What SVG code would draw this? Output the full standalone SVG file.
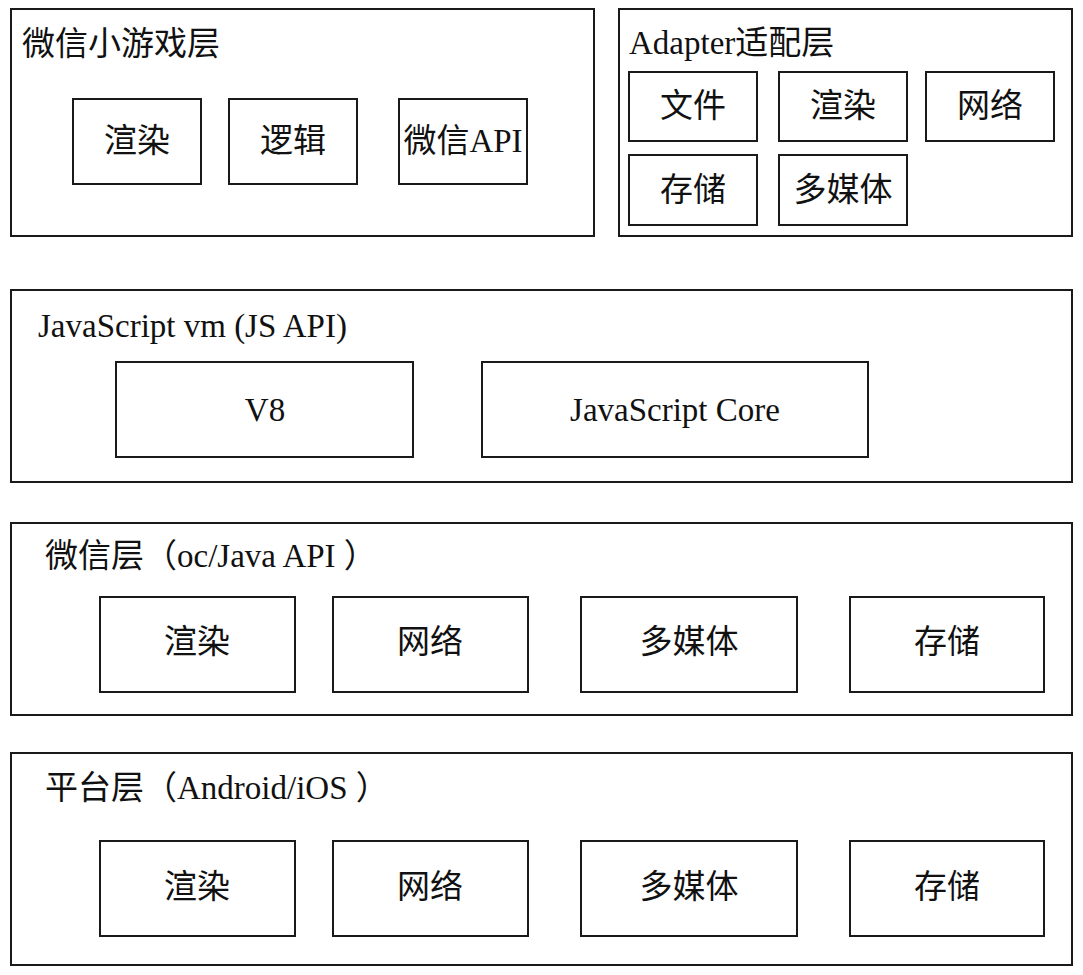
<svg xmlns="http://www.w3.org/2000/svg" width="1083" height="975" viewBox="0 0 1083 975">
<style>
.b{fill:#fff;stroke:#1a1a1a;stroke-width:2}
.t{font-family:"Liberation Serif","Noto Sans CJK SC",serif;font-size:33px;fill:#111;dominant-baseline:central}
.c{text-anchor:middle}
</style>
<rect width="1083" height="975" fill="#fff"/>
<g id="minigame-layer">
<rect class="b" x="11" y="9" width="583" height="227"/>
<text class="t" x="22" y="44">微信小游戏层</text>
</g>
<g id="mg-render"><rect class="b" x="73" y="99" width="128" height="85"/><text class="t c" x="137" y="141">渲染</text></g>
<g id="mg-logic"><rect class="b" x="229" y="99" width="128" height="85"/><text class="t c" x="293" y="141">逻辑</text></g>
<g id="mg-wxapi"><rect class="b" x="399" y="99" width="128" height="85"/><text class="t c" x="463" y="141">微信API</text></g>
<g id="adapter-layer">
<rect class="b" x="619" y="9" width="453" height="227"/>
<text class="t" x="629" y="43">Adapter适配层</text>
</g>
<g id="ad-file"><rect class="b" x="629" y="72" width="128" height="69"/><text class="t c" x="693" y="106">文件</text></g>
<g id="ad-render"><rect class="b" x="779" y="72" width="128" height="69"/><text class="t c" x="843" y="106">渲染</text></g>
<g id="ad-net"><rect class="b" x="926" y="72" width="128" height="69"/><text class="t c" x="990" y="106">网络</text></g>
<g id="ad-storage"><rect class="b" x="629" y="155" width="128" height="70"/><text class="t c" x="693" y="190">存储</text></g>
<g id="ad-media"><rect class="b" x="779" y="155" width="128" height="70"/><text class="t c" x="843" y="190">多媒体</text></g>
<g id="js-layer">
<rect class="b" x="11" y="290" width="1061" height="192"/>
<text class="t" x="38" y="326">JavaScript vm (JS API)</text>
</g>
<g id="js-v8"><rect class="b" x="116" y="362" width="297" height="95"/><text class="t c" x="265" y="410">V8</text></g>
<g id="js-jsc"><rect class="b" x="482" y="362" width="386" height="95"/><text class="t c" x="675" y="410">JavaScript Core</text></g>
<g id="wechat-layer">
<rect class="b" x="11" y="523" width="1061" height="192"/>
<text class="t" x="45" y="556">微信层（oc/Java API ）</text>
</g>
<g id="wx-render"><rect class="b" x="100" y="597" width="195" height="95"/><text class="t c" x="197" y="642">渲染</text></g>
<g id="wx-net"><rect class="b" x="333" y="597" width="195" height="95"/><text class="t c" x="430" y="642">网络</text></g>
<g id="wx-media"><rect class="b" x="581" y="597" width="216" height="95"/><text class="t c" x="689" y="642">多媒体</text></g>
<g id="wx-storage"><rect class="b" x="850" y="597" width="194" height="95"/><text class="t c" x="947" y="642">存储</text></g>
<g id="platform-layer">
<rect class="b" x="11" y="753" width="1061" height="212"/>
<text class="t" x="45" y="788">平台层（Android/iOS ）</text>
</g>
<g id="pf-render"><rect class="b" x="100" y="841" width="195" height="95"/><text class="t c" x="197" y="887">渲染</text></g>
<g id="pf-net"><rect class="b" x="333" y="841" width="195" height="95"/><text class="t c" x="430" y="887">网络</text></g>
<g id="pf-media"><rect class="b" x="581" y="841" width="216" height="95"/><text class="t c" x="689" y="887">多媒体</text></g>
<g id="pf-storage"><rect class="b" x="850" y="841" width="194" height="95"/><text class="t c" x="947" y="887">存储</text></g>
<g id="connectors"></g>
</svg>
